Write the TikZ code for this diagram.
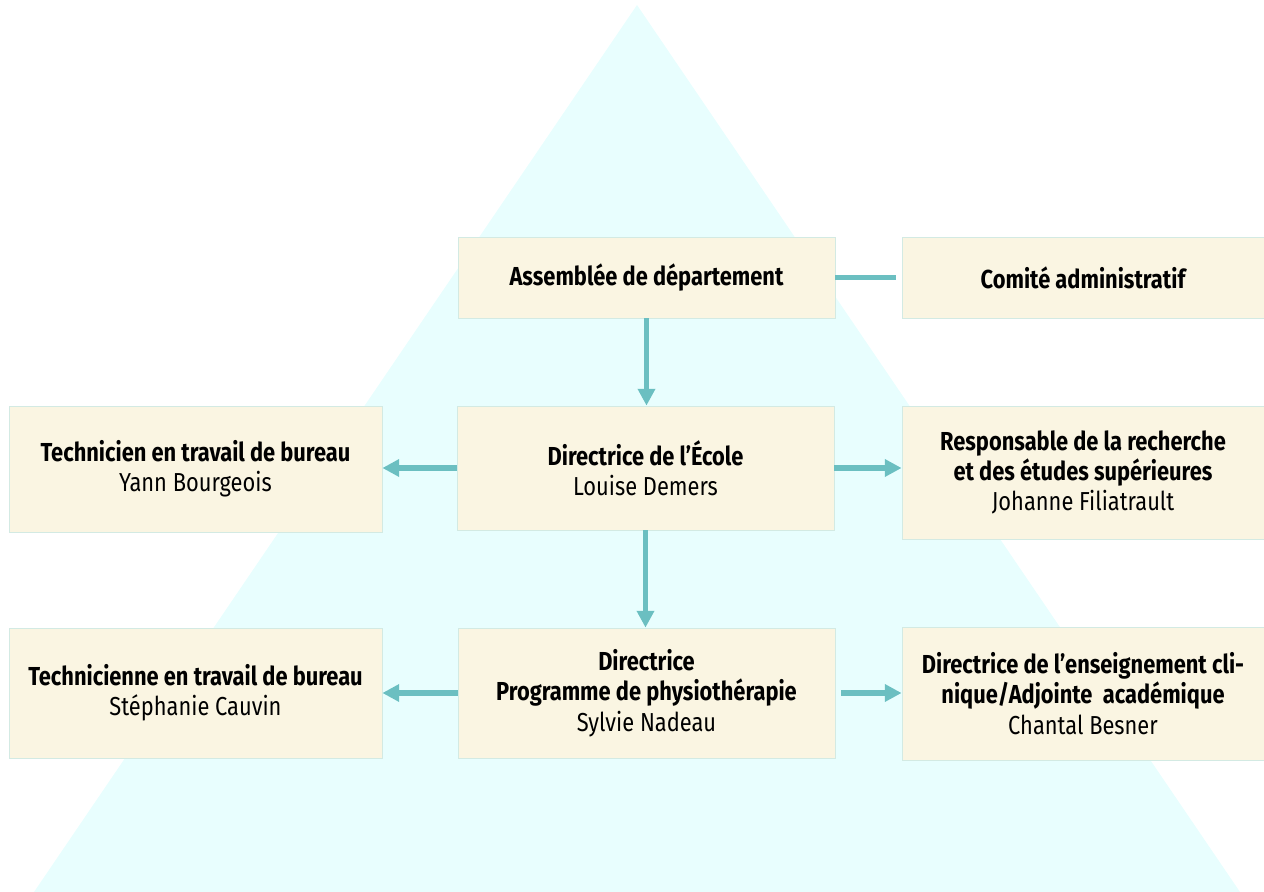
\documentclass[tikz,border=0pt]{standalone}
\usepackage{fontspec}
\setmainfont{Fira Sans}[FakeStretch=0.84]
\usetikzlibrary{arrows.meta}
\definecolor{pyramide}{HTML}{E8FEFE}
\definecolor{boite}{HTML}{FAF5E2}
\definecolor{bord}{HTML}{D3EAE3}
\definecolor{fleche}{HTML}{6BBFC1}
\tikzset{
  poste/.style={draw=bord,line width=0.6pt,fill=boite,align=center,inner sep=2pt,
    font=\fontsize{18.5}{21.5}\selectfont},
  lien/.style={draw=fleche,line width=3.6pt},
  fl/.style={lien,-{Triangle[length=0.42cm,width=0.42cm]}}
}
\begin{document}
\begin{tikzpicture}[x=0.025cm,y=-0.025cm]
			\useasboundingbox (0,0) rectangle (1264,892);
			\fill [pyramide] (637,5) -- (1240,892) -- (34,892) -- cycle;
			\node [poste,minimum width=377*0.025cm,minimum height=81*0.025cm] (asm) at (646.5,277.5)
				{\bfseries Assemblée de département};
			\node [poste,minimum width=362*0.025cm,minimum height=81*0.025cm] (comite) at (1083,277.5)
				{\bfseries Comité administratif};
			\node [poste,minimum width=377*0.025cm,minimum height=124*0.025cm] (ecole) at (645.5,468)
				{\bfseries Directrice de l’École\\Louise Demers};
			\node [poste,minimum width=373*0.025cm,minimum height=126*0.025cm] (techA) at (195.5,469)
				{\bfseries Technicien en travail de bureau\\Yann Bourgeois};
			\node [poste,minimum width=362*0.025cm,minimum height=133*0.025cm] (resp) at (1083,472.5)
				{\bfseries Responsable de la recherche\\\bfseries et des études supérieures\\Johanne Filiatrault};
			\node [poste,minimum width=377*0.025cm,minimum height=130*0.025cm] (prog) at (646.5,693)
				{\bfseries Directrice\\\bfseries Programme de physiothérapie\\Sylvie Nadeau};
			\node [poste,minimum width=373*0.025cm,minimum height=130*0.025cm] (techB) at (195.5,693)
				{\bfseries Technicienne en travail de bureau\\Stéphanie Cauvin};
			\node [poste,minimum width=362*0.025cm,minimum height=133*0.025cm] (ens) at (1083,693.5)
				{\bfseries Directrice de l’enseignement cli-\\\bfseries nique/Adjointe\ \ académique\\Chantal Besner};
			\draw [lien,shorten >=4pt] (asm.east) -- (comite.west |- asm.east);
			\draw [fl] (asm.south) -- (asm.south |- ecole.north);
			\draw [fl] (ecole.south) -- (ecole.south |- prog.north);
			\draw [fl] (ecole.west) -- (techA.east |- ecole.west);
			\draw [fl] (ecole.east) -- (resp.west |- ecole.east);
			\draw [fl] (prog.west) -- (techB.east |- prog.west);
			\draw [fl,shorten <=4pt] (prog.east) -- (ens.west |- prog.east);
		\end{tikzpicture}
\end{document}
